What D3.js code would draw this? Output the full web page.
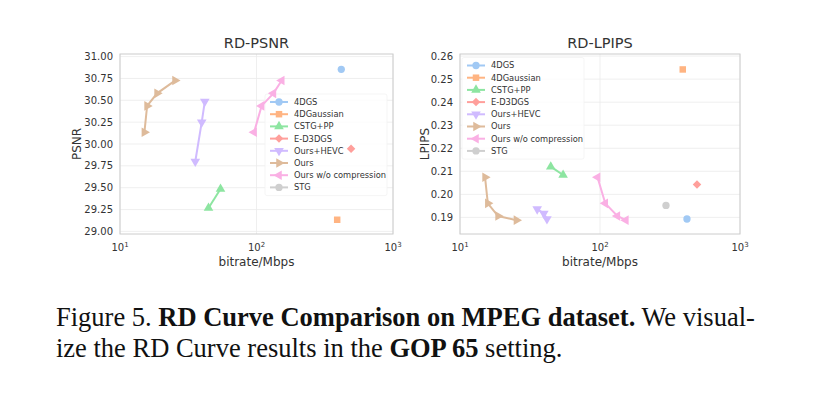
<!DOCTYPE html>
<html>
<head>
<meta charset="utf-8">
<script src="https://cdn.jsdelivr.net/npm/d3@7"></script>
<style>
  body { margin: 0; background: #fff; }
  svg { display: block; }
</style>
</head>
<body>
<div id="chart-area"></div>
<script>
// data
var methods = ["4DGS", "4DGaussian", "CSTG+PP", "E-D3DGS", "Ours+HEVC", "Ours", "Ours w/o compression", "STG"];
var colors = ["#a1c9f4", "#ffb482", "#8de5a1", "#ff9f9b", "#d0bbff", "#debb9b", "#fab0e4", "#cfcfcf"];
var markers = ["circle", "square", "up", "diamond", "down", "right", "left", "circle"];

var bitrate = [
  [418],
  [390],
  [44.5, 54.5],
  [493],
  [35.6, 39.7, 41.8],
  [15.1, 15.8, 18.7, 25.3],
  [96, 109, 133, 153],
  [296]
];
var psnr = [
  [30.855],
  [29.133],
  [29.267, 29.484],
  [29.945],
  [29.80, 30.25, 30.486],
  [30.135, 30.436, 30.58, 30.726],
  [30.135, 30.436, 30.58, 30.726],
  [null]
];
var lpips = [
  [0.1893],
  [0.2542],
  [0.2120, 0.2084],
  [0.2043],
  [0.1936, 0.1917, 0.1893],
  [0.2074, 0.1961, 0.1906, 0.1888],
  [0.2074, 0.1961, 0.1906, 0.1888],
  [0.1952]
];
var psnrTicks = [29.00, 29.25, 29.50, 29.75, 30.00, 30.25, 30.50, 30.75, 31.00];
var lpipsTicks = [0.19, 0.20, 0.21, 0.22, 0.23, 0.24, 0.25, 0.26];
var xTicks = [10, 100, 1000];

var svg = d3.select("#chart-area")
  .append("svg")
  .attr("width", 815)
  .attr("height", 395);

var textColor = "#333";
var font = "DejaVu Sans, sans-serif";

function markerPath(m) {
  var sym = d3.symbol();
  if (m == "circle") return sym.type(d3.symbolCircle).size(42)();
  if (m == "square") return sym.type(d3.symbolSquare).size(42)();
  if (m == "diamond") return sym.type(d3.symbolSquare).size(36)();
  return sym.type(d3.symbolTriangle).size(40)();
}
function markerRot(m) {
  if (m == "diamond") return 45;
  if (m == "down") return 180;
  if (m == "right") return 90;
  if (m == "left") return -90;
  return 0;
}

function drawPanel(opt) {
  var x = d3.scaleLog().domain([10, 1000]).range([opt.left, opt.right]);
  var y = d3.scaleLinear().domain(opt.yDomain).range([234, 54]);
  var g = svg.append("g");

  // grid
  g.selectAll(".hgrid")
    .data(opt.yTicks)
    .enter()
    .append("line")
    .attr("x1", opt.left).attr("x2", opt.right)
    .attr("y1", function(d) { return y(d); })
    .attr("y2", function(d) { return y(d); })
    .attr("stroke", "#ebebeb").attr("stroke-width", 0.8);
  g.selectAll(".vgrid")
    .data(xTicks)
    .enter()
    .append("line")
    .attr("x1", function(d) { return x(d); })
    .attr("x2", function(d) { return x(d); })
    .attr("y1", 54).attr("y2", 234)
    .attr("stroke", "#ebebeb").attr("stroke-width", 0.8);

  // frame
  g.append("rect")
    .attr("x", opt.left).attr("y", 54)
    .attr("width", opt.right - opt.left).attr("height", 180)
    .attr("fill", "none").attr("stroke", "#cccccc").attr("stroke-width", 1);

  // y tick labels
  g.selectAll(".ytick")
    .data(opt.yTicks)
    .enter()
    .append("text")
    .attr("x", opt.left - 7)
    .attr("y", function(d) { return y(d); })
    .attr("dy", "0.35em")
    .attr("text-anchor", "end")
    .attr("font-family", font).attr("font-size", 10)
    .attr("fill", textColor)
    .text(opt.fmt);

  // x tick labels 10^n
  var xt = g.selectAll(".xtick")
    .data(xTicks)
    .enter()
    .append("text")
    .attr("x", function(d) { return x(d); })
    .attr("y", 251)
    .attr("text-anchor", "middle")
    .attr("font-family", font).attr("font-size", 10)
    .attr("fill", textColor);
  xt.append("tspan").text("10");
  xt.append("tspan")
    .attr("dy", -4).attr("font-size", 7)
    .text(function(d) { return Math.round(Math.log10(d)); });

  // axis labels and title
  var cx = (opt.left + opt.right) / 2;
  g.append("text")
    .attr("x", cx).attr("y", 266)
    .attr("text-anchor", "middle")
    .attr("font-family", font).attr("font-size", 12)
    .attr("fill", textColor)
    .text("bitrate/Mbps");
  g.append("text")
    .attr("transform", "translate(" + opt.ylabelX + ",144) rotate(-90)")
    .attr("text-anchor", "middle")
    .attr("font-family", font).attr("font-size", 12)
    .attr("fill", textColor)
    .text(opt.ylabel);
  g.append("text")
    .attr("x", cx).attr("y", 48)
    .attr("text-anchor", "middle")
    .attr("font-family", font).attr("font-size", 14.5)
    .attr("fill", textColor)
    .text(opt.title);

  // legend background
  g.append("rect")
    .attr("x", opt.legX - 5).attr("y", opt.legY - 8)
    .attr("width", opt.legW).attr("height", 8 * 12.2 + 4)
    .attr("rx", 2)
    .attr("fill", "#fff").attr("fill-opacity", 0.8)
    .attr("stroke", "#f2f2f2").attr("stroke-width", 0.8);

  // series
  methods.forEach(function(name, i) {
    var pts = bitrate[i].map(function(b, j) { return [b, opt.values[i][j]]; })
      .filter(function(p) { return p[1] != null; });
    var line = d3.line()
      .x(function(p) { return x(p[0]); })
      .y(function(p) { return y(p[1]); });
    if (pts.length > 1) {
      g.append("path")
        .attr("d", line(pts))
        .attr("fill", "none")
        .attr("stroke", colors[i]).attr("stroke-width", 2);
    }
    g.selectAll(".m" + i)
      .data(pts)
      .enter()
      .append("path")
      .attr("d", markerPath(markers[i]))
      .attr("transform", function(p) {
        return "translate(" + x(p[0]) + "," + y(p[1]) + ") rotate(" + markerRot(markers[i]) + ")";
      })
      .attr("fill", colors[i]);

    // legend entry
    var ly = opt.legY + i * 12.2;
    g.append("line")
      .attr("x1", opt.legX).attr("x2", opt.legX + 18)
      .attr("y1", ly).attr("y2", ly)
      .attr("stroke", colors[i]).attr("stroke-width", 2);
    g.append("path")
      .attr("d", markerPath(markers[i]))
      .attr("transform", "translate(" + (opt.legX + 9) + "," + ly + ") rotate(" + markerRot(markers[i]) + ")")
      .attr("fill", colors[i]);
    g.append("text")
      .attr("x", opt.legX + 24).attr("y", ly)
      .attr("dy", "0.35em")
      .attr("font-family", font).attr("font-size", 8.3)
      .attr("fill", textColor)
      .text(name);
  });
}

drawPanel({
  left: 120, right: 393,
  yDomain: [28.97, 31.03],
  yTicks: psnrTicks,
  fmt: function(d) { return d.toFixed(2); },
  ylabel: "PSNR", ylabelX: 81,
  title: "RD-PSNR",
  values: psnr,
  legX: 270, legY: 102, legW: 122
});

drawPanel({
  left: 460, right: 740,
  yDomain: [0.1828, 0.2609],
  yTicks: lpipsTicks,
  fmt: function(d) { return d.toFixed(2); },
  ylabel: "LPIPS", ylabelX: 429,
  title: "RD-LPIPS",
  values: lpips,
  legX: 467, legY: 65.5, legW: 122
});

// caption
var serif = "Liberation Serif, Times New Roman, serif";
var cap1 = svg.append("text")
  .attr("x", 56).attr("y", 326)
  .attr("font-family", serif).attr("font-size", 23)
  .attr("fill", "#111");
cap1.append("tspan").text("Figure 5. ");
cap1.append("tspan").attr("font-weight", "bold").text("RD Curve Comparison on MPEG dataset.");
cap1.append("tspan").text(" We visual-");

var cap2 = svg.append("text")
  .attr("x", 56).attr("y", 357)
  .attr("font-family", serif).attr("font-size", 23)
  .attr("fill", "#111");
cap2.append("tspan").text("ize the RD Curve results in the ");
cap2.append("tspan").attr("font-weight", "bold").text("GOP 65");
cap2.append("tspan").text(" setting.");

// fit the first caption line to the page width
var w = cap1.node().getComputedTextLength();
var fs = 23 * 699 / w;
cap1.attr("font-size", fs);
cap2.attr("font-size", fs);
</script>
</body>
</html>
